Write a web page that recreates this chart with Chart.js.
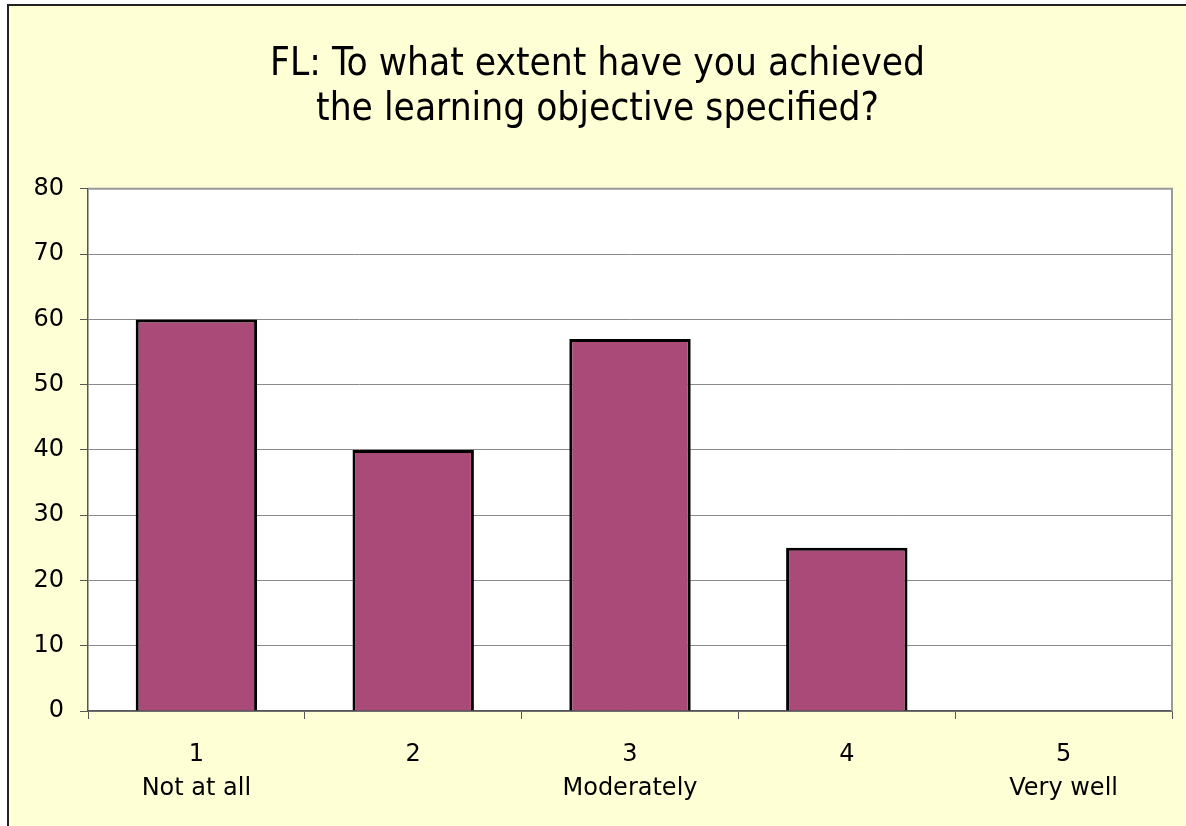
<!DOCTYPE html>
<html>
<head>
<meta charset="utf-8">
<script src="https://cdn.jsdelivr.net/npm/chart.js@4"></script>
<style>
  html, body { margin: 0; padding: 0; background: #fff; overflow: hidden; }
  #frame {
    position: absolute; left: 7px; top: 4px;
    width: 1179px; height: 822px;
    background: #FFFFD5;
    border-top: 2px solid #222; border-left: 2px solid #222;
  }
  canvas { display: block; }
</style>
</head>
<body>
<div id="frame"><canvas id="myChart" width="1177" height="820"></canvas></div>
<script>
const categories = [['1', 'Not at all'], '2', ['3', 'Moderately'], '4', ['5', 'Very well']];
const responses = [60, 40, 57, 25, 0];
const titleLines = ['FL: To what extent have you achieved', 'the learning objective specified?'];

// white plot area plus light grey top/right frame
const plotBackground = {
    id: 'plotBackground',
    beforeDraw(chart) {
        const { ctx, chartArea: a } = chart;
        ctx.save();
        ctx.fillStyle = '#fff';
        ctx.fillRect(a.left, a.top, a.right - a.left, a.bottom - a.top);
        ctx.restore();
    },
    beforeDatasetsDraw(chart) {
        const { ctx, chartArea: a } = chart;
        ctx.save();
        ctx.strokeStyle = '#999';
        ctx.lineWidth = 2;
        ctx.beginPath();
        ctx.moveTo(a.left, a.top);
        ctx.lineTo(a.right, a.top);
        ctx.lineTo(a.right, a.bottom);
        ctx.stroke();
        ctx.restore();
    },
};

Chart.defaults.font.family = 'DejaVu Sans';
Chart.defaults.color = '#000';

const config = {
    type: 'bar',
    data: {
        labels: categories,
        datasets: [
            {
                data: responses,
                backgroundColor: '#A94A78',
                borderColor: '#000',
                borderWidth: 3,
                borderSkipped: 'bottom',
                categoryPercentage: 1,
                barPercentage: 0.56,
            },
        ],
    },
    options: {
        responsive: false,
        animation: false,
        layout: { padding: 0 },
        plugins: {
            legend: { display: false },
            tooltip: { enabled: false },
            title: {
                display: true,
                text: titleLines,
                color: '#000',
                font: { family: 'DejaVu Sans Condensed', size: 38.5, weight: 'normal', lineHeight: 1.18 },
                padding: { top: 36, bottom: 56 },
            },
        },
        scales: {
            x: {
                grid: { drawOnChartArea: false, drawTicks: true, tickLength: 8, tickColor: '#555', offset: true },
                border: { color: '#555', width: 1.5 },
                ticks: { font: { size: 24, lineHeight: 1.42 }, padding: 19, maxRotation: 0 },
                afterFit(scale) { scale.height = 115; },
            },
            y: {
                min: 0,
                max: 80,
                ticks: { stepSize: 10, font: { size: 24 }, padding: 16 },
                grid: { color: '#8a8a8a', tickLength: 8, tickColor: '#555' },
                border: { color: '#555', width: 1.5 },
                afterFit(scale) { scale.width = 79; },
            },
            // empty right margin so the title stays centred on the whole frame
            yRight: {
                position: 'right',
                display: true,
                grid: { display: false },
                border: { display: false },
                ticks: { display: false },
                afterFit(scale) { scale.width = 14; },
            },
        },
    },
    plugins: [plotBackground],
};
const myChart = new Chart(document.getElementById('myChart'), config);
</script>
</body>
</html>
